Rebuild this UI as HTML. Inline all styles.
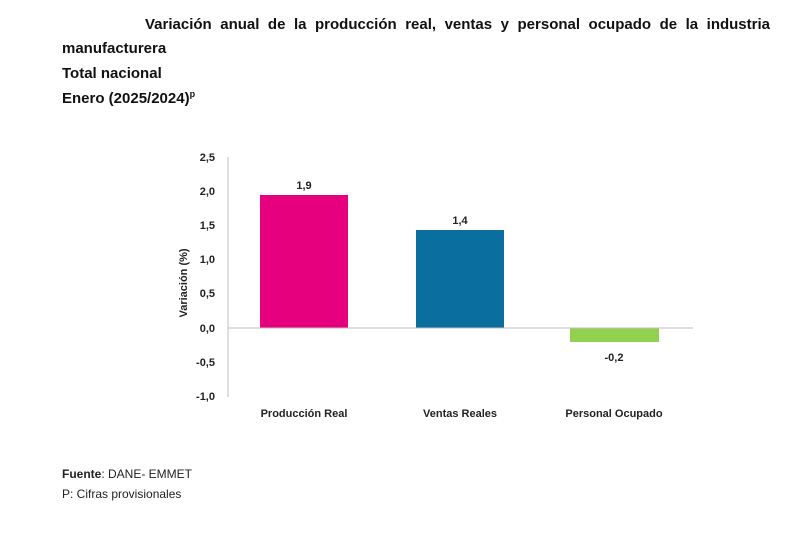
<!DOCTYPE html>
<html><head><meta charset="utf-8"><style>
body{margin:0;width:800px;height:533px;background:#fff;overflow:hidden;font-family:"Liberation Sans",sans-serif;}
.t{position:absolute;font-weight:bold;font-size:15px;color:#111;white-space:nowrap;}
</style></head><body>
<div class="t" style="left:145px;top:16px;width:625px;text-align:justify;text-align-last:justify;">Variación anual de la producción real, ventas y personal ocupado de la industria</div>
<div class="t" style="left:62px;top:40px;">manufacturera</div>
<div class="t" style="left:62px;top:65px;">Total nacional</div>
<div class="t" style="left:62px;top:89px;">Enero (2025/2024)<sup style="font-size:9px">p</sup></div>
<svg width="800" height="533" style="position:absolute;left:0;top:0" font-family="Liberation Sans, sans-serif">
<line x1="228" y1="157" x2="228" y2="397" stroke="#bfbfbf" stroke-width="1"/>
<g font-size="11" font-weight="bold" fill="#222" text-anchor="end">
<text x="215" y="161">2,5</text><text x="215" y="195">2,0</text><text x="215" y="229">1,5</text><text x="215" y="263">1,0</text>
<text x="215" y="297">0,5</text><text x="215" y="332">0,0</text><text x="215" y="366">-0,5</text><text x="215" y="400">-1,0</text>
</g>
<rect x="260" y="195" width="88" height="133" fill="#e6007e"/>
<rect x="416" y="230" width="88" height="98" fill="#0a6f9e"/>
<rect x="570" y="328" width="89" height="14" fill="#92d050"/>
<line x1="228" y1="328" x2="693" y2="328" stroke="#bfbfbf" stroke-width="1"/>
<g font-size="11" font-weight="bold" fill="#222" text-anchor="middle">
<text x="304" y="189">1,9</text><text x="460" y="224">1,4</text><text x="614" y="361">-0,2</text>
<text x="304" y="417">Producción Real</text><text x="460" y="417">Ventas Reales</text><text x="614" y="417">Personal Ocupado</text>
</g>
<text transform="translate(187,283) rotate(-90)" font-size="11" font-weight="bold" fill="#222" text-anchor="middle">Variación (%)</text>
<text x="62" y="478" font-size="12" fill="#222"><tspan font-weight="bold">Fuente</tspan>: DANE- EMMET</text>
<text x="62" y="498" font-size="12" fill="#222">P: Cifras provisionales</text>
</svg>
</body></html>
